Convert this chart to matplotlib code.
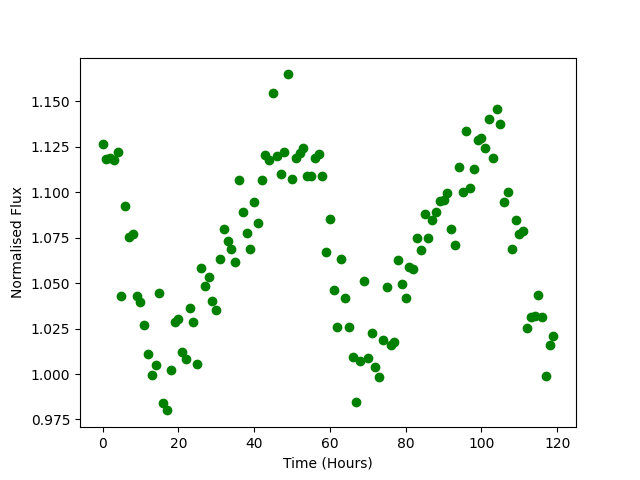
import matplotlib
matplotlib.use("Agg")
import matplotlib.pyplot as plt
import numpy as np

time_hours = np.arange(120)
flux = [
    1.1262, 1.1181, 1.1187, 1.1179, 1.1223, 1.0428, 1.0922, 1.0752, 1.0768, 1.0428,
    1.0395, 1.0272, 1.0108, 0.9995, 1.0049, 1.0444, 0.9843, 0.9800, 1.0022, 1.0285,
    1.0302, 1.0122, 1.0082, 1.0362, 1.0285, 1.0055, 1.0581, 1.0483, 1.0532, 1.0400,
    1.0351, 1.0631, 1.0797, 1.0730, 1.0686, 1.0614, 1.1064, 1.0889, 1.0774, 1.0686,
    1.0944, 1.0828, 1.1064, 1.1203, 1.1179, 1.1543, 1.1201, 1.1099, 1.1223, 1.1647,
    1.1070, 1.1190, 1.1214, 1.1245, 1.1088, 1.1088, 1.1190, 1.1209, 1.1088, 1.0669,
    1.0850, 1.0461, 1.0258, 1.0631, 1.0417, 1.0258, 1.0093, 0.9846, 1.0071, 1.0510,
    1.0088, 1.0225, 1.0038, 0.9984, 1.0187, 1.0477, 1.0159, 1.0176, 1.0625, 1.0494,
    1.0417, 1.0587, 1.0576, 1.0750, 1.0680, 1.0879, 1.0750, 1.0848, 1.0889, 1.0949,
    1.0955, 1.0993, 1.0797, 1.0708, 1.1136, 1.0998, 1.1335, 1.1020, 1.1125, 1.1289,
    1.1300, 1.1245, 1.1404, 1.1190, 1.1459, 1.1377, 1.0944, 1.0998, 1.0686, 1.0845,
    1.0770, 1.0786, 1.0252, 1.0313, 1.0318, 1.0433, 1.0313, 0.9989, 1.0159, 1.0208,
]

fig, ax = plt.subplots(figsize=(6.4, 4.8), dpi=100)
ax.plot(time_hours, flux, 'go')
ax.set_xlabel("Time (Hours)")
ax.set_ylabel("Normalised Flux")
fig.savefig("out.png")
